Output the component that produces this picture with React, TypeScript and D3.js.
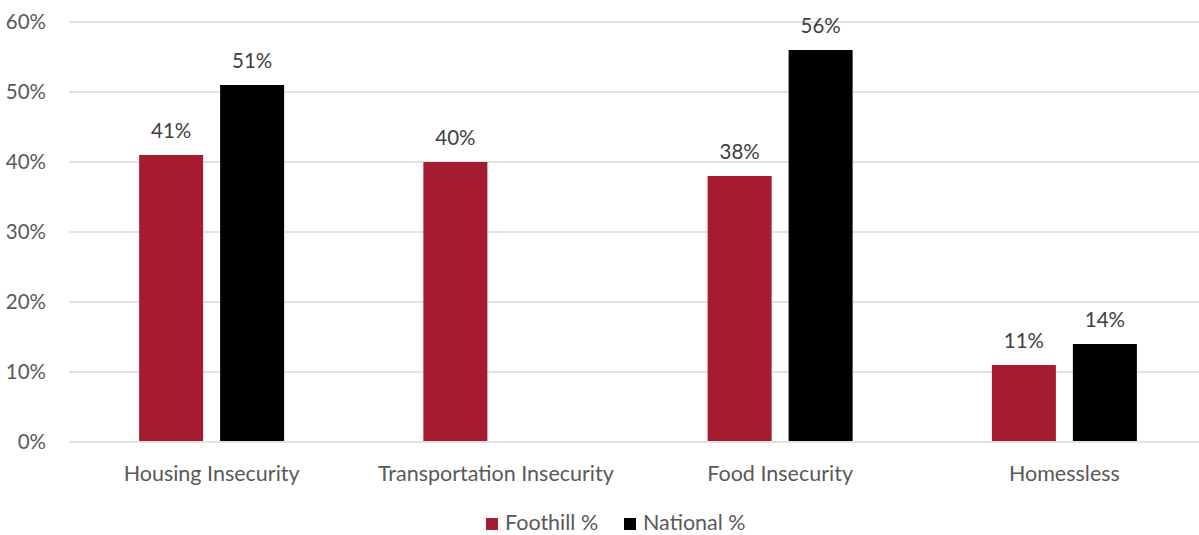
import React from "react";
import * as d3 from "d3";

const categories = ["Housing Insecurity", "Transportation Insecurity", "Food Insecurity", "Homessless"];
const seriesNames = ["Foothill %", "National %"];
const foothill: (number | null)[] = [41, 40, 38, 11];
const national: (number | null)[] = [51, null, 56, 14];
const yTicks = [0, 10, 20, 30, 40, 50, 60];
const colors = ["#A51C30", "#000000"];

const W = 1199, H = 535;
const left = 69.5, right = 1206.5, top = 22, bottom = 442;
const FONT = "Lato, 'Open Sans', sans-serif";

export default function App() {
  const x = d3.scaleBand<string>().domain(categories).range([left, right]);
  const y = d3.scaleLinear().domain([0, 60]).range([bottom, top]);
  const barW = 64, gap = 17;
  const series = [foothill, national];
  return (
    <svg width={W} height={H} style={{ position: "absolute", left: 0, top: 0 }} fontFamily={FONT}>
      <rect width={W} height={H} fill="#fff" />
      {yTicks.map((t) => (
        <g key={t}>
          <line x1={69} x2={W} y1={y(t)} y2={y(t)} stroke="#d9d9d9" strokeWidth={1.5} />
          <text x={46} y={y(t)} dy="0.35em" textAnchor="end" fontSize={20.5} fill="#595959">{t}%</text>
        </g>
      ))}
      {categories.map((c, i) => {
        const cx = x(c)! + x.bandwidth() / 2;
        return (
          <g key={c}>
            {series.map((s, j) => {
              const v = s[i];
              if (v == null) return null;
              const bx = cx - (barW * 2 + gap) / 2 + j * (barW + gap);
              return (
                <g key={j}>
                  <rect x={bx} y={y(v)} width={barW} height={y(0) - y(v) - 1} fill={colors[j]} />
                  <text x={bx + barW / 2} y={y(v) - 17} textAnchor="middle" fontSize={20.5} fill="#404040">{v}%</text>
                </g>
              );
            })}
            <text x={cx} y={481} textAnchor="middle" fontSize={21.5} fill="#595959">{c}</text>
          </g>
        );
      })}
      {seriesNames.map((n, j) => {
        const lx = [486, 624][j];
        return (
          <g key={n}>
            <rect x={lx} y={518} width={12} height={12} fill={colors[j]} />
            <text x={lx + 19} y={530} fontSize={21.5} fill="#595959">{n}</text>
          </g>
        );
      })}
    </svg>
  );
}
